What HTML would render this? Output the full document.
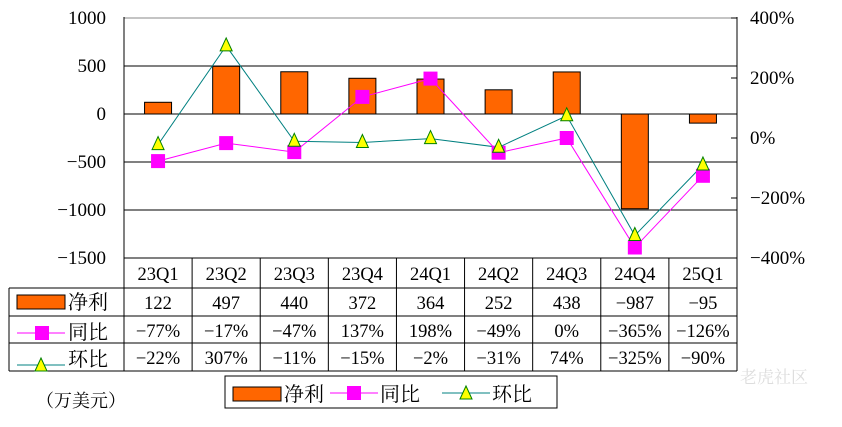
<!DOCTYPE html>
<html><head><meta charset="utf-8"><style>
body{margin:0;background:#fff;width:842px;height:422px;overflow:hidden}
svg{font-family:"Liberation Serif","Noto Serif CJK SC",serif}
</style></head><body>
<svg id="c" width="842" height="422"></svg>
<script>
const categories=["23Q1","23Q2","23Q3","23Q4","24Q1","24Q2","24Q3","24Q4","25Q1"];
const netProfit=[122,497,440,372,364,252,438,-987,-95];
const yoy=[-77,-17,-47,137,198,-49,0,-365,-126];
const qoq=[-22,307,-11,-15,-2,-31,74,-325,-90];
const leftTicks=[1000,500,0,-500,-1000,-1500];
const rightTicks=[400,200,0,-200,-400];

const NS="http://www.w3.org/2000/svg",s=document.getElementById('c');
const X0=124,X1=737,T=17,B=258,cw=(X1-X0)/categories.length;
const yL=v=>114-(v)*48/500;
const yR=v=>138-v*0.3;
const cx=i=>X0+cw*(i+0.5);
function el(t,a,p){const e=document.createElementNS(NS,t);for(const k in a)e.setAttribute(k,a[k]);(p||s).appendChild(e);return e}
function tx(x,y,str,anchor,size){const e=el('text',{x:x,y:y,'text-anchor':anchor||'middle','font-size':size||18.5,fill:'#000'});e.textContent=str;return e}
leftTicks.forEach(v=>{const g=el('line',{x1:X0,x2:X1,y1:yL(v),y2:yL(v),stroke:v===1000?'#888':'#000','stroke-width':1});


const t=tx(X0-18,yL(v)+6,String(v).replace('-','−'),'end',19);

});
el('line',{x1:X0,x2:X0,y1:T,y2:B,stroke:'#000'});
el('line',{x1:X1,x2:X1,y1:T,y2:B,stroke:'#000'});
rightTicks.forEach(v=>{el('line',{x1:X1-6,x2:X1,y1:yR(v),y2:yR(v),stroke:'#000'});
const t=tx(X1+13,yR(v)+6,String(v).replace('-','−')+'%','start',19);

});
netProfit.forEach((v,i)=>{const y0=yL(0),y1=yL(v);
const r=el('rect',{x:cx(i)-13.5,y:Math.min(y0,y1),width:27,height:Math.abs(y1-y0),fill:'#FF6600',stroke:'#000','stroke-width':1});

});
function line(vals,color,name){const p=el('polyline',{points:vals.map((v,i)=>cx(i)+','+yR(v)).join(' '),fill:'none',stroke:color,'stroke-width':1});

}
line(yoy,'#FF00FF','yoy-line');line(qoq,'#008080','qoq-line');
yoy.forEach((v,i)=>{const r=el('rect',{x:cx(i)-7,y:yR(v)-7,width:14,height:14,fill:'#FF00FF'});

});
qoq.forEach((v,i)=>{const x=cx(i),y=yR(v);const p=el('polygon',{points:`${x},${y-8} ${x-6},${y+5} ${x+6},${y+5}`,fill:'#FFFF00',stroke:'#008000','stroke-width':1});

});
const rows=[258,288,316,343,371];
el('line',{x1:X0,x2:X1,y1:258,y2:258,stroke:'#000'});
for(let r=1;r<rows.length;r++)el('line',{x1:9,x2:X1,y1:rows[r],y2:rows[r],stroke:'#000'});
el('line',{x1:9,x2:9,y1:288,y2:371,stroke:'#000'});
for(let i=0;i<=categories.length;i++)el('line',{x1:X0+cw*i,x2:X0+cw*i,y1:258,y2:371,stroke:'#000'});
const fmt=v=>String(v).replace('-','−');
categories.forEach((c,i)=>{tx(cx(i),280,c);tx(cx(i),309,fmt(netProfit[i]));tx(cx(i),337,fmt(yoy[i])+'%');tx(cx(i),364,fmt(qoq[i])+'%');});
el('rect',{x:17,y:295,width:48,height:14,fill:'#FF6600',stroke:'#000'});tx(68,309,'净利','start',20);
el('line',{x1:17,x2:65,y1:333,y2:333,stroke:'#FF00FF'});el('rect',{x:35,y:326,width:14,height:14,fill:'#FF00FF'});tx(68,339,'同比','start',20);
el('line',{x1:17,x2:65,y1:365,y2:365,stroke:'#008080'});el('polygon',{points:'41,358 35,371 47,371',fill:'#FFFF00',stroke:'#008000'});tx(68,366,'环比','start',20);
const lg=el('g',{});
el('rect',{x:225,y:376,width:332,height:32,fill:'#fff',stroke:'#000'},lg);
el('rect',{x:233,y:387,width:48,height:14,fill:'#FF6600',stroke:'#000'},lg);tx(284,401,'净利','start',20);
el('line',{x1:330,x2:378,y1:393,y2:393,stroke:'#FF00FF'},lg);el('rect',{x:347,y:386,width:14,height:14,fill:'#FF00FF'},lg);tx(380,401,'同比','start',20);
el('line',{x1:442,x2:490,y1:393,y2:393,stroke:'#008080'},lg);el('polygon',{points:'466,386 460,399 472,399',fill:'#FFFF00',stroke:'#008000'},lg);tx(492,401,'环比','start',20);
const u=tx(36,407,'（万美元）','start',18);
const w=tx(740,383,'老虎社区','start',17);w.setAttribute('fill','#ddd');
</script></body></html>
